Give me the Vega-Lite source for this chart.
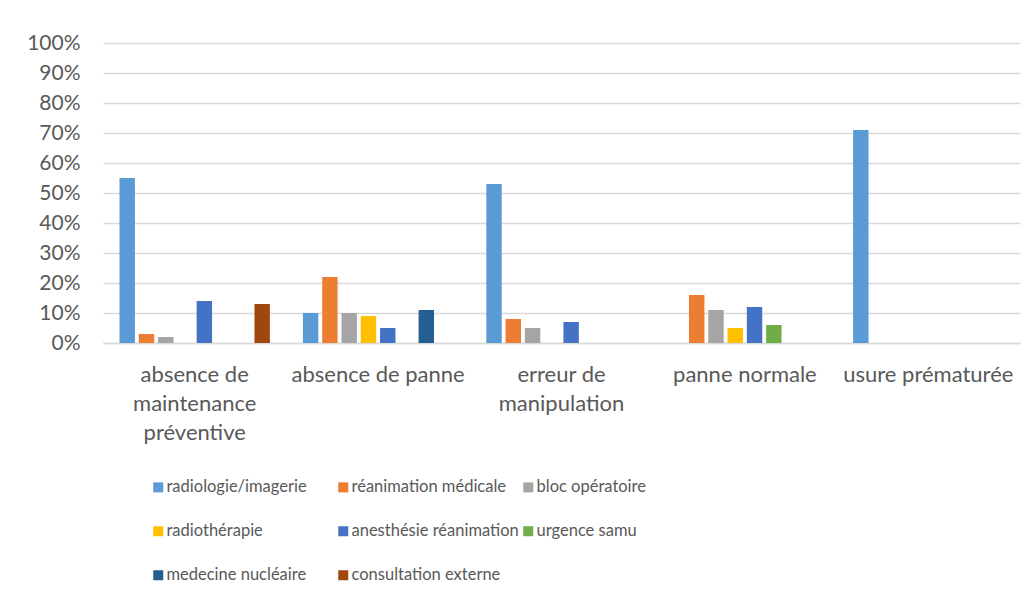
{
  "$schema": "https://vega.github.io/schema/vega-lite/v6.json",
  "autosize": "none",
  "width": 917,
  "height": 300,
  "padding": {"left": 103, "top": 43, "right": 15, "bottom": 260},
  "background": "white",
  "config": {
    "view": {"stroke": null},
    "font": "Lato",
    "axis": {"labelFont": "Lato", "labelColor": "#595959", "labelFontSize": 21},
    "legend": {"labelFont": "Lato", "labelColor": "#595959", "labelFontSize": 16.5}
  },
  "data": {
    "values": [
      {"cause": "absence de maintenance préventive", "service": "radiologie/imagerie", "value": 0.55},
      {"cause": "absence de maintenance préventive", "service": "réanimation médicale", "value": 0.03},
      {"cause": "absence de maintenance préventive", "service": "bloc opératoire", "value": 0.02},
      {"cause": "absence de maintenance préventive", "service": "anesthésie réanimation", "value": 0.14},
      {"cause": "absence de maintenance préventive", "service": "consultation externe", "value": 0.13},
      {"cause": "absence de panne", "service": "radiologie/imagerie", "value": 0.10},
      {"cause": "absence de panne", "service": "réanimation médicale", "value": 0.22},
      {"cause": "absence de panne", "service": "bloc opératoire", "value": 0.10},
      {"cause": "absence de panne", "service": "radiothérapie", "value": 0.09},
      {"cause": "absence de panne", "service": "anesthésie réanimation", "value": 0.05},
      {"cause": "absence de panne", "service": "medecine nucléaire", "value": 0.11},
      {"cause": "erreur de manipulation", "service": "radiologie/imagerie", "value": 0.53},
      {"cause": "erreur de manipulation", "service": "réanimation médicale", "value": 0.08},
      {"cause": "erreur de manipulation", "service": "bloc opératoire", "value": 0.05},
      {"cause": "erreur de manipulation", "service": "anesthésie réanimation", "value": 0.07},
      {"cause": "panne normale", "service": "réanimation médicale", "value": 0.16},
      {"cause": "panne normale", "service": "bloc opératoire", "value": 0.11},
      {"cause": "panne normale", "service": "radiothérapie", "value": 0.05},
      {"cause": "panne normale", "service": "anesthésie réanimation", "value": 0.12},
      {"cause": "panne normale", "service": "urgence samu", "value": 0.06},
      {"cause": "usure prématurée", "service": "radiologie/imagerie", "value": 0.71}
    ]
  },
  "mark": {"type": "bar"},
  "encoding": {
    "x": {
      "field": "cause",
      "type": "nominal",
      "sort": ["absence de maintenance préventive", "absence de panne", "erreur de manipulation", "panne normale", "usure prématurée"],
      "scale": {"paddingInner": 0.18, "paddingOuter": 0.09},
      "axis": {
        "title": null,
        "labelAngle": 0,
        "ticks": false,
        "domainColor": "#d9d9d9",
        "domainWidth": 1.5,
        "labelFontSize": 22,
        "labelPadding": 31,
        "labelLineHeight": 29,
        "labelBaseline": "middle",
        "labelLimit": 300,
        "labelOverlap": false,
        "labelExpr": "datum.label == 'absence de maintenance préventive' ? ['absence de', 'maintenance', 'préventive'] : datum.label == 'erreur de manipulation' ? ['erreur de', 'manipulation'] : datum.label"
      }
    },
    "xOffset": {
      "field": "service",
      "type": "nominal",
      "scale": {
        "domain": ["radiologie/imagerie", "réanimation médicale", "bloc opératoire", "radiothérapie", "anesthésie réanimation", "urgence samu", "medecine nucléaire", "consultation externe"],
        "paddingInner": 0.2,
        "paddingOuter": 0
      }
    },
    "y": {
      "field": "value",
      "type": "quantitative",
      "scale": {"domain": [0, 1]},
      "axis": {
        "title": null,
        "format": ".0%",
        "values": [0, 0.1, 0.2, 0.3, 0.4, 0.5, 0.6, 0.7, 0.8, 0.9, 1],
        "labelOverlap": false,
        "domain": false,
        "ticks": false,
        "gridColor": "#d9d9d9",
        "gridWidth": 1.5,
        "labelPadding": 23
      }
    },
    "color": {
      "field": "service",
      "type": "nominal",
      "scale": {
        "domain": ["radiologie/imagerie", "réanimation médicale", "bloc opératoire", "radiothérapie", "anesthésie réanimation", "urgence samu", "medecine nucléaire", "consultation externe"],
        "range": ["#5B9BD5", "#ED7D31", "#A5A5A5", "#FFC000", "#4472C4", "#70AD47", "#255E91", "#9E480E"]
      },
      "legend": {
        "title": null,
        "orient": "none",
        "legendX": 47,
        "legendY": 436,
        "direction": "horizontal",
        "columns": 3,
        "gridAlign": "all",
        "symbolType": "square",
        "symbolSize": 100,
        "symbolStrokeWidth": 0,
        "labelOffset": 0,
        "columnPadding": 1,
        "rowPadding": 27,
        "labelLimit": 300
      }
    }
  }
}
